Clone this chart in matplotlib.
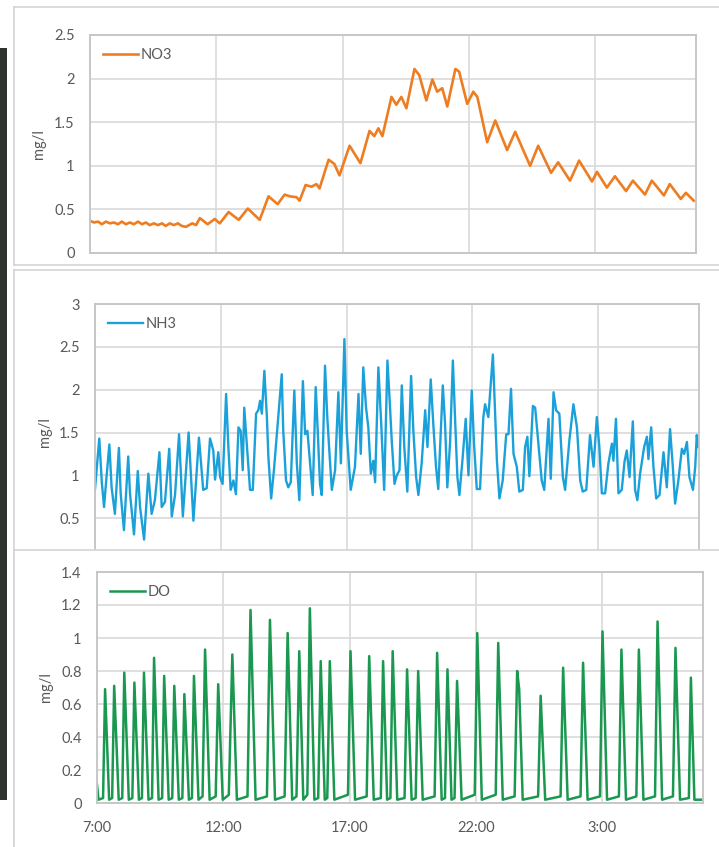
import numpy as np
import matplotlib.pyplot as plt
from matplotlib.ticker import FuncFormatter

plt.rcParams['font.family'] = ['Lato', 'DejaVu Sans']

# hours after 7:00
tick_hours = [0, 5, 10, 15, 20]
tick_labels = ["7:00", "12:00", "17:00", "22:00", "3:00"]

no3_hours = [0.00, 0.16, 0.32, 0.47, 0.63, 0.79, 0.95, 1.11, 1.26, 1.42, 1.58, 1.74, 1.90, 2.06, 2.21,
             2.37, 2.53, 2.69, 2.85, 3.00, 3.16, 3.32, 3.48, 3.64, 3.80, 4.05, 4.20, 4.35, 4.66, 4.94,
             5.14, 5.49, 5.89, 6.25, 6.72, 7.07, 7.43, 7.71, 7.91, 8.18, 8.30, 8.54, 8.77, 8.97, 9.09,
             9.45, 9.68, 9.88, 10.28, 10.71, 11.07, 11.26, 11.42, 11.58, 11.94, 12.13, 12.33, 12.53,
             12.85, 13.04, 13.32, 13.56, 13.75, 13.95, 14.15, 14.47, 14.62, 14.94, 15.18, 15.34, 15.73,
             16.05, 16.52, 16.84, 17.43, 17.75, 18.26, 18.54, 19.01, 19.37, 19.88, 20.08, 20.47, 20.79,
             21.23, 21.50, 21.98, 22.25, 22.73, 22.96, 23.40, 23.60, 23.91]
no3_vals = [0.37, 0.35, 0.36, 0.33, 0.36, 0.34, 0.35, 0.33, 0.36, 0.33, 0.35, 0.33, 0.36, 0.33, 0.35,
            0.32, 0.34, 0.32, 0.34, 0.31, 0.34, 0.32, 0.34, 0.31, 0.30, 0.34, 0.32, 0.40, 0.33, 0.39,
            0.34, 0.47, 0.38, 0.51, 0.38, 0.65, 0.56, 0.67, 0.65, 0.64, 0.60, 0.78, 0.76, 0.79, 0.74,
            1.07, 1.02, 0.89, 1.23, 1.03, 1.40, 1.34, 1.43, 1.34, 1.79, 1.70, 1.79, 1.66,
            2.11, 2.04, 1.75, 1.99, 1.85, 1.89, 1.68, 2.11, 2.08, 1.71, 1.85, 1.79, 1.27,
            1.52, 1.18, 1.39, 1.00, 1.23, 0.92, 1.04, 0.83, 1.06, 0.82, 0.93, 0.75, 0.88,
            0.71, 0.83, 0.67, 0.83, 0.66, 0.79, 0.62, 0.69, 0.60]

nh3_hours = [0.00, 0.17, 0.27, 0.36, 0.44, 0.57, 0.66, 0.79, 0.95, 1.02, 1.15, 1.32, 1.39, 1.55, 1.70,
             1.79, 1.95, 2.12, 2.25, 2.38, 2.56, 2.65, 2.78, 2.95, 3.05, 3.18, 3.34, 3.49, 3.72, 3.91,
             4.13, 4.30, 4.44, 4.57, 4.70, 4.77, 4.90, 4.97, 5.07, 5.21, 5.30, 5.39, 5.50, 5.60, 5.70,
             5.79, 5.87, 5.93, 6.03, 6.16, 6.27, 6.40, 6.49, 6.56, 6.63, 6.73, 6.83, 6.89, 7.00, 7.11,
             7.25, 7.42, 7.48, 7.59, 7.68, 7.78, 7.92, 8.02, 8.12, 8.26, 8.35, 8.44, 8.55, 8.65, 8.77,
             8.85, 8.94, 9.01, 9.14, 9.23, 9.31, 9.41, 9.54, 9.67, 9.77, 9.91, 10.00, 10.16, 10.33,
             10.47, 10.56, 10.66, 10.77, 10.86, 10.96, 11.06, 11.13, 11.26, 11.37, 11.49, 11.62, 11.72,
             11.79, 11.90, 11.99, 12.10, 12.19, 12.29, 12.41, 12.56, 12.65, 12.76, 12.85, 12.98, 13.12,
             13.21, 13.34, 13.45, 13.55, 13.64, 13.82, 13.91, 14.00, 14.11, 14.22, 14.31, 14.40, 14.48,
             14.61, 14.73, 14.84, 14.97, 15.06, 15.17, 15.30, 15.43, 15.50, 15.63, 15.81, 15.90, 15.97,
             16.07, 16.20, 16.34, 16.43, 16.53, 16.63, 16.76, 16.86, 17.00, 17.09, 17.18, 17.26, 17.40,
             17.49, 17.62, 17.75, 17.85, 18.02, 18.11, 18.22, 18.32, 18.45, 18.59, 18.68, 18.85, 19.01,
             19.15, 19.28, 19.38, 19.52, 19.67, 19.81, 19.94, 20.04, 20.14, 20.27, 20.40, 20.54, 20.60,
             20.70, 20.80, 20.93, 21.04, 21.13, 21.24, 21.37, 21.46, 21.55, 21.66, 21.82, 21.93, 21.99,
             22.10, 22.19, 22.30, 22.43, 22.59, 22.72, 22.85, 22.96, 23.05, 23.18, 23.32, 23.41, 23.52,
             23.62, 23.76, 23.85, 23.91, 23.98]
nh3_vals = [0.84, 1.43, 0.92, 0.63, 0.92, 1.36, 0.86, 0.55, 1.32, 0.79, 0.36, 1.22, 0.79, 0.31, 1.05,
            0.63, 0.25, 1.02, 0.55, 0.71, 1.27, 0.63, 0.69, 1.31, 0.52, 0.77, 1.48, 0.52, 1.50, 0.47,
            1.44, 0.83, 0.85, 1.43, 1.29, 0.95, 1.27, 0.98, 0.90, 1.95, 1.33, 0.83, 0.94, 0.78, 1.56,
            1.52, 1.06, 1.79, 1.37, 0.83, 0.83, 1.72, 1.76, 1.87, 1.72, 2.22, 1.68, 1.21, 0.73, 1.06,
            1.56, 2.18, 1.52, 0.94, 0.86, 0.92, 1.99, 1.14, 0.71, 2.10, 1.48, 1.52, 1.12, 0.77, 2.03,
            1.52, 0.90, 0.77, 2.28, 1.68, 1.29, 0.83, 1.06, 1.97, 1.14, 2.59, 1.52, 0.83, 1.10,
            1.95, 1.25, 2.26, 1.79, 1.56, 1.02, 1.17, 0.92, 2.26, 1.62, 0.83, 2.34, 1.81,
            1.41, 0.90, 1.00, 1.06, 2.05, 1.33, 0.81, 2.16, 1.52, 0.98, 0.77, 1.14, 1.76,
            1.33, 2.12, 1.56, 1.10, 0.84, 2.05, 1.60, 0.86, 1.39, 2.34, 1.64, 0.98, 0.77,
            1.21, 1.66, 1.00, 1.99, 1.37, 0.84, 0.84, 1.68, 1.83, 1.68, 2.41, 1.72, 1.17,
            0.73, 0.94, 1.48, 1.48, 2.01, 1.25, 1.10, 0.81, 0.83, 1.33, 1.45, 0.99, 1.81,
            1.79, 1.37, 0.94, 0.83, 1.66, 0.96, 1.97, 1.76, 1.72, 0.98, 0.83, 1.41, 1.83,
            1.56, 0.94, 0.81, 0.83, 1.47, 1.10, 1.68, 1.33, 0.79, 0.79, 1.14, 1.37, 1.17,
            1.66, 0.79, 0.83, 1.16, 1.29, 0.98, 1.63, 0.83, 0.71, 1.02, 1.33, 1.45, 1.19,
            1.56, 1.10, 0.73, 0.77, 1.27, 0.86, 1.54, 1.10, 0.67, 0.94, 1.31, 1.25, 1.39,
            0.98, 0.83, 1.10, 1.47, 1.33]

do_hours = [0.00, 0.06, 0.24, 0.32, 0.48, 0.60, 0.68, 0.86, 1.00, 1.08, 1.26, 1.40, 1.48, 1.66, 1.78,
            1.86, 2.04, 2.18, 2.26, 2.44, 2.58, 2.66, 2.84, 2.98, 3.06, 3.24, 3.38, 3.46, 3.64, 3.76,
            3.84, 4.02, 4.18, 4.28, 4.46, 4.70, 4.80, 4.98, 5.22, 5.36, 5.54, 5.96, 6.08, 6.28, 6.73,
            6.85, 7.05, 7.43, 7.55, 7.73, 7.90, 8.01, 8.17, 8.33, 8.43, 8.61, 8.76, 8.86, 9.02, 9.12,
            9.22, 9.40, 9.94, 10.04, 10.22, 10.68, 10.78, 10.96, 11.24, 11.33, 11.49, 11.62, 11.71,
            11.89, 12.18, 12.28, 12.46, 12.62, 12.72, 12.90, 13.37, 13.47, 13.65, 13.78, 13.88, 14.04,
            14.16, 14.26, 14.44, 14.96, 15.06, 15.24, 15.79, 15.89, 16.07, 16.54, 16.64, 16.72, 16.86,
            17.47, 17.57, 17.75, 18.36, 18.46, 18.64, 19.15, 19.25, 19.43, 19.92, 20.02, 20.20, 20.67,
            20.77, 20.95, 21.36, 21.46, 21.64, 22.10, 22.20, 22.38, 22.81, 22.91, 23.09, 23.44, 23.52,
            23.66, 24.00]
do_vals = [0.11, 0.02, 0.03, 0.69, 0.02, 0.03, 0.71, 0.02, 0.03, 0.79, 0.02, 0.03, 0.73, 0.02, 0.03,
           0.79, 0.02, 0.03, 0.88, 0.02, 0.03, 0.77, 0.02, 0.03, 0.71, 0.02, 0.03, 0.66, 0.02, 0.03,
           0.77, 0.02, 0.04, 0.93, 0.02, 0.04, 0.72, 0.02, 0.05, 0.90, 0.02, 0.04, 1.17, 0.02, 0.04,
           1.11, 0.02, 0.04, 1.03, 0.02, 0.04, 0.92, 0.02, 0.05, 1.18, 0.02, 0.03, 0.86, 0.02, 0.03,
           0.86, 0.02, 0.05, 0.92, 0.02, 0.04, 0.89, 0.02, 0.03, 0.86, 0.02, 0.03, 0.92,
           0.02, 0.03, 0.81, 0.02, 0.03, 0.80, 0.02, 0.04, 0.91, 0.02, 0.03, 0.81, 0.02,
           0.03, 0.74, 0.02, 0.05, 1.03, 0.02, 0.05, 0.97, 0.02, 0.04, 0.80, 0.69, 0.02,
           0.04, 0.65, 0.02, 0.04, 0.82, 0.02, 0.04, 0.85, 0.02, 0.04, 1.04, 0.02, 0.04,
           0.93, 0.02, 0.04, 0.93, 0.02, 0.04, 1.10, 0.02, 0.04, 0.94, 0.02, 0.03, 0.76,
           0.02, 0.02]

W, H = 719, 847
fig = plt.figure(figsize=(W / 100, H / 100), dpi=100)


def px_axes(x0, y0, x1, y1, z):
    # pixel box (top-left origin) -> figure axes
    a = fig.add_axes([x0 / W, 1 - y1 / H, (x1 - x0) / W, (y1 - y0) / H])
    a.set_zorder(z)
    return a


def frame(x0, y0, x1, y1, z):
    f = px_axes(x0, y0, x1, y1, z)
    f.set_xticks([])
    f.set_yticks([])
    f.set_facecolor('white')
    for s in f.spines.values():
        s.set_color('#d4d4d4')
        s.set_linewidth(1.2)
    return f


gray = '#595959'
fmt = FuncFormatter(lambda v, p: '{:g}'.format(round(v, 2)))


def style(ax, ymin_tick, ymax, ystep, xlabels):
    ax.set_xlim(0, 24)
    ax.set_ylim(0, ymax)
    ax.set_yticks(np.arange(ymin_tick, ymax + ystep / 2, ystep))
    ax.yaxis.set_major_formatter(fmt)
    ax.set_xticks(tick_hours)
    if xlabels:
        ax.set_xticklabels(tick_labels)
    else:
        ax.set_xticklabels([])
    ax.tick_params(length=0, labelsize=10.5, colors=gray)
    ax.tick_params(axis='y', pad=11)
    ax.tick_params(axis='x', pad=13)
    ax.grid(True, color='#d9d9d9', linewidth=1.2)
    ax.set_axisbelow(True)
    for s in ax.spines.values():
        s.set_color('#c4c4c4')
        s.set_linewidth(1.3)
    ax.set_ylabel('mg/l', color=gray, fontsize=10.5)
    ax.yaxis.set_label_coords(-0.072, 0.5)
    ax.legend(loc='upper left', frameon=False, fontsize=10.5, handlelength=2.4,
              handletextpad=0.2, labelcolor=gray)


# left dark edge of the photo
fig.add_artist(plt.Rectangle((0, 1 - 800 / H), 7 / W, 752 / H, transform=fig.transFigure,
                             facecolor='#2f332d', edgecolor='none', zorder=0))

# NO3
frame(14, 7, 760, 265, 1)
ax1 = px_axes(90, 35, 696, 253, 2)
ax1.plot(no3_hours, no3_vals, color='#ee7d22', lw=1.9, solid_joinstyle='round', label='NO3')
style(ax1, 0, 2.5, 0.5, False)

# NH3 (bottom is hidden under the DO panel, so its 0 label is never seen)
frame(14, 270, 760, 900, 3)
ax2 = px_axes(95, 304, 699, 561, 4)
ax2.plot(nh3_hours, nh3_vals, color='#1ba1da', lw=1.7, solid_joinstyle='round', label='NH3')
style(ax2, 0.5, 3, 0.5, False)

# DO
frame(14, 550, 760, 900, 5)
ax3 = px_axes(97, 572, 703, 803, 6)
ax3.plot(do_hours, do_vals, color='#1a9850', lw=1.8, solid_joinstyle='round', label='DO')
style(ax3, 0, 1.4, 0.2, True)

plt.savefig('out.png', dpi=100)
